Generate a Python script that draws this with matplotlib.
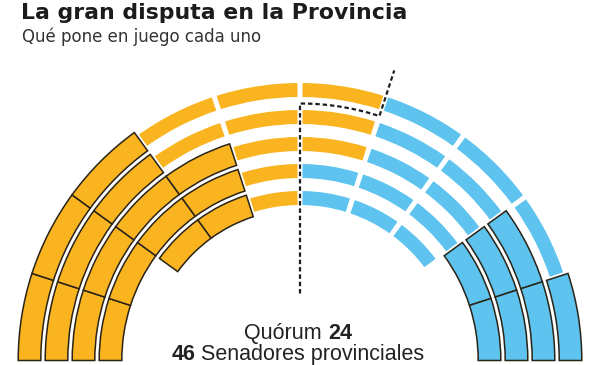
import numpy as np
import matplotlib
matplotlib.use("Agg")
import matplotlib.pyplot as plt
from matplotlib.patches import Wedge

# ---------------- data ----------------
title = "La gran disputa en la Provincia"
subtitle = "Qué pone en juego cada uno"
quorum_word = "Quórum"
quorum = 24
total_seats = 46
total_word = "Senadores provinciales"

# seats per hemicycle row (outer -> inner), listed left to right
yellow_kept = [3, 3, 4, 4, 2]    # outlined yellow (not at stake)
yellow_stake = [3, 3, 2, 1, 1]   # yellow at stake
blue_stake = [3, 2, 2, 3, 3]     # blue at stake
blue_kept = [1, 2, 2, 2, 0]      # outlined blue (not at stake)

# ---------------- style / layout ----------------
YELLOW = "#F9B420"
BLUE = "#5EC3EE"
EDGE = "#2a2417"
W, H = 600, 365
cx, cy = 300, 4.5
row_r = [270.5, 243.5, 216.5, 189.5, 162.5]
seat_deg = 18.0
kept_half = 11.3
stake_half = 7.0
gap_px = 5.0

fig = plt.figure(figsize=(W / 100, H / 100), dpi=100)
ax = fig.add_axes([0, 0, 1, 1])
ax.set_xlim(0, W)
ax.set_ylim(0, H)
ax.axis("off")

for i, r in enumerate(row_r):
    seq = ([(YELLOW, True)] * yellow_kept[i] + [(YELLOW, False)] * yellow_stake[i]
           + [(BLUE, False)] * blue_stake[i] + [(BLUE, True)] * blue_kept[i])
    n = len(seq)
    start = 90 + n * seat_deg / 2
    for j, (col, kept) in enumerate(seq):
        t2 = start - j * seat_deg
        t1 = t2 - seat_deg
        if kept:
            ax.add_patch(Wedge((cx, cy), r + kept_half, t1, t2, width=2 * kept_half,
                               facecolor=col, edgecolor=EDGE, linewidth=1.1,
                               joinstyle="miter", zorder=3))
        else:
            d = np.degrees(gap_px / 2 / r)
            ax.add_patch(Wedge((cx, cy), r + stake_half, t1 + d, t2 - d,
                               width=2 * stake_half, facecolor=col,
                               edgecolor="none", zorder=2))

# quorum line
r_mid12 = (row_r[0] + row_r[1]) / 2
ang = np.linspace(90, 90 - seat_deg, 30)
px = np.concatenate([[cx, cx], cx + r_mid12 * np.cos(np.radians(ang)),
                     [cx + 305 * np.cos(np.radians(90 - seat_deg))]])
py = np.concatenate([[cy + 67, cy + r_mid12], cy + r_mid12 * np.sin(np.radians(ang)),
                     [cy + 305 * np.sin(np.radians(90 - seat_deg))]])
ax.plot(px, py, color="#1e1e1e", linewidth=1.6, linestyle=(0, (2.0, 1.3)), zorder=5)

# titles
ax.text(21, 346, title, fontsize=15.8, fontweight="bold", color="#1c1c1c",
        family="DejaVu Sans", va="baseline", ha="left")
ax.text(22, 323, subtitle, fontsize=12, color="#333333",
        family="DejaVu Sans", va="baseline", ha="left")

# bottom labels with mixed weights
def mixed_line(parts, xc, y, size):
    texts = []
    for s, wgt in parts:
        texts.append(ax.text(0, y, s, fontsize=size, fontweight=wgt, color="#222222",
                             family=["Liberation Sans", "DejaVu Sans"],
                             va="baseline", ha="left"))
    fig.canvas.draw()
    rend = fig.canvas.get_renderer()
    widths = [t.get_window_extent(rend).width for t in texts]
    space = 0.28 * size * 100 / 72
    total = sum(widths) + space * (len(texts) - 1)
    x = xc - total / 2
    for t, w in zip(texts, widths):
        t.set_x(x)
        x += w + space

mixed_line([(quorum_word, "normal"), (str(quorum), "bold")], 298, 26, 15.5)
mixed_line([(str(total_seats), "bold"), (total_word, "normal")], 298, 5, 15.5)

fig.savefig("out.png", dpi=100)
